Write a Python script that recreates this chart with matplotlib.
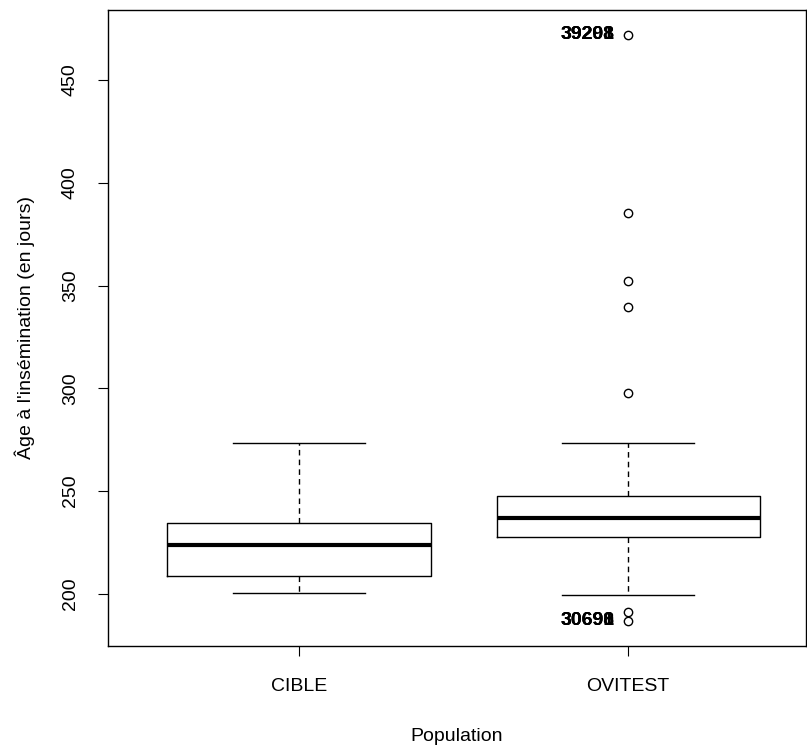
import matplotlib.pyplot as plt

plt.rcParams['font.family'] = ['Liberation Sans', 'DejaVu Sans']

# data
categories = ['CIBLE', 'OVITEST']
whislo = [200.5, 199.5]
q1 = [208.8, 227.7]
med = [223.8, 237.0]
q3 = [234.5, 247.7]
whishi = [273.4, 273.4]
fliers = [[], [471.9, 385.3, 352.2, 339.6, 297.8, 191.2, 186.9]]

# overlapping id labels next to extreme points
top_value = 471.9
top_labels = ['39201', '39298', '39208']
bottom_value = 186.9
bottom_labels = ['30691', '30698', '30690']

stats = []
for i in range(len(categories)):
    stats.append({'label': categories[i], 'whislo': whislo[i], 'q1': q1[i],
                  'med': med[i], 'q3': q3[i], 'whishi': whishi[i],
                  'fliers': fliers[i]})

fig = plt.figure(figsize=(8.07, 7.45), dpi=100)
ax = fig.add_axes([108 / 807, 1 - 646 / 745, 698 / 807, 636 / 745])

ax.bxp(stats, positions=[1, 2], widths=0.8,
       boxprops=dict(color='black', linewidth=1),
       medianprops=dict(color='black', linewidth=3),
       whiskerprops=dict(color='black', linewidth=1, linestyle=(0, (4, 3))),
       capprops=dict(color='black', linewidth=1),
       flierprops=dict(marker='o', markerfacecolor='none', markeredgecolor='black',
                       markersize=6, markeredgewidth=1))

for lab in top_labels:
    ax.annotate(lab, (2, top_value), xytext=(-10, 0), textcoords='offset points',
                ha='right', va='center', fontsize=14, fontweight='bold', color='black')
for lab in bottom_labels:
    ax.annotate(lab, (2, bottom_value), xytext=(-10, 0), textcoords='offset points',
                ha='right', va='center', fontsize=14, fontweight='bold', color='black')

ax.set_xlim(0.42, 2.54)
ax.set_ylim(174.7, 484)
ax.set_yticks([200, 250, 300, 350, 400, 450])
ax.set_xticks([1, 2])
ax.set_xticklabels(categories)
ax.tick_params(axis='y', labelrotation=90, length=7, labelsize=14, pad=14)
ax.tick_params(axis='x', length=7, labelsize=14, pad=16)
for lbl in ax.get_yticklabels():
    lbl.set_va('center')
for s in ax.spines.values():
    s.set_linewidth(1)

ax.set_xlabel('Population', fontsize=14, labelpad=24)
ax.set_ylabel("Âge à l'insémination (en jours)", fontsize=14, labelpad=19)

fig.savefig('out.png', dpi=100)
